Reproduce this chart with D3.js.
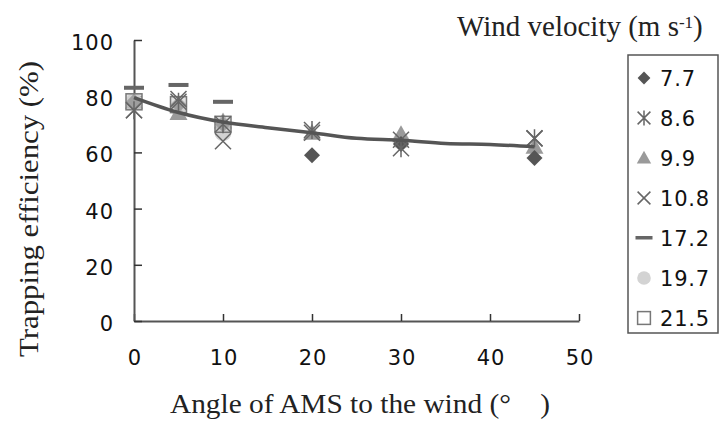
<!DOCTYPE html>
<html>
<head>
<meta charset="utf-8">
<script src="https://cdn.jsdelivr.net/npm/d3@7"></script>
<style>
  html, body { margin: 0; padding: 0; background: #fff; }
  svg { display: block; }
</style>
</head>
<body>
<svg id="chart" width="719" height="421"></svg>
<script>
// Angle of the AMS to the wind (degrees)
const angles = [0, 5, 10, 20, 30, 45];

// Trapping efficiency (%) for each wind velocity (m s-1)
const v7_7  = [78, 77, 70, 59, 63, 58];
const v8_6  = [75, 78, 70, 68, 61.5, 65];
const v9_9  = [78, 74, 71, 67, 66.5, 62];
const v10_8 = [75, 79, 64, 67, 64.5, 65];
const v17_2 = [83, 84, 78, null, null, null];
const v19_7 = [78, 76, 67, null, 64, null];
const v21_5 = [78, 77, 70, null, null, null];

// Fitted trend through all velocities
const trendAngles = [0, 5, 10, 15, 20, 25, 30, 35, 40, 45];
const trendValues = [79.5, 74.2, 70.8, 68.8, 67, 65, 64.3, 63.2, 62.8, 62];

const xTicks = [0, 10, 20, 30, 40, 50];
const yTicks = [0, 20, 40, 60, 80, 100];

const seriesLabels = ["7.7", "8.6", "9.9", "10.8", "17.2", "19.7", "21.5"];
const seriesValues = [v7_7, v8_6, v9_9, v10_8, v17_2, v19_7, v21_5];
const seriesShapes = ["diamond", "asterisk", "triangle", "cross", "dash", "circle", "square"];

const svg = d3.select("#chart");
const sans = "'DejaVu Sans', 'Liberation Sans', Arial, sans-serif";
const serif = "'Liberation Serif', 'DejaVu Serif', 'Times New Roman', serif";
const axisColor = "#555";

const x = d3.scaleLinear().domain([0, 50]).range([134, 579]);
const y = d3.scaleLinear().domain([0, 100]).range([321, 40]);

// Axes with inward ticks
const gx = svg.append("g").attr("transform", `translate(0,${y(0)})`)
  .call(d3.axisBottom(x).tickValues(xTicks).tickSizeInner(-7).tickSizeOuter(0).tickPadding(36));
const gy = svg.append("g").attr("transform", `translate(${x(0)},0)`)
  .call(d3.axisLeft(y).tickValues(yTicks).tickSizeInner(-8).tickSizeOuter(0).tickPadding(20));

[gx, gy].forEach(g => {
  g.select(".domain").attr("stroke", axisColor).attr("stroke-width", 2);
  g.selectAll(".tick line").attr("stroke", "#333").attr("stroke-width", 1.5);
  g.selectAll(".tick text").attr("fill", "#111").style("font-family", sans)
    .style("font-size", "21px").style("letter-spacing", "1px");
});
gy.selectAll(".tick text").attr("dy", "0.45em");
gx.selectAll(".tick text").attr("dy", "0.36em").attr("dx", "0.5px");

// Symbol drawing
function drawSymbol(g, shape, cx, cy, legend) {
  const s = legend ? 0.8 : 1;
  switch (shape) {
    case "diamond": {
      const r = 8 * s;
      g.append("path").attr("d", `M${cx},${cy-r}L${cx+r},${cy}L${cx},${cy+r}L${cx-r},${cy}Z`)
        .attr("fill", "#555");
      break;
    }
    case "asterisk": {
      const r = 8 * s;
      const p = `M${cx-r},${cy-r}L${cx+r},${cy+r}M${cx-r},${cy+r}L${cx+r},${cy-r}M${cx},${cy-r-1}L${cx},${cy+r+1}`;
      g.append("path").attr("d", p).attr("stroke", "#666").attr("stroke-width", 1.5).attr("fill", "none");
      break;
    }
    case "triangle": {
      const r = 9 * s;
      g.append("path").attr("d", `M${cx},${cy-r}L${cx+r},${cy+r*0.78}L${cx-r},${cy+r*0.78}Z`).attr("fill", "#9a9a9a");
      break;
    }
    case "cross": {
      const r = 8 * s;
      g.append("path").attr("d", `M${cx-r},${cy-r}L${cx+r},${cy+r}M${cx-r},${cy+r}L${cx+r},${cy-r}`)
        .attr("stroke", "#666").attr("stroke-width", 1.5).attr("fill", "none");
      break;
    }
    case "dash": {
      const w = legend ? 17 : 20;
      g.append("rect").attr("x", cx - w / 2).attr("y", cy - 2).attr("width", w).attr("height", legend ? 3.5 : 4).attr("fill", "#666");
      break;
    }
    case "circle":
      g.append("circle").attr("cx", cx).attr("cy", cy).attr("r", 8.5 * s).attr("fill", "#d3d3d3");
      break;
    case "square": {
      const r = 8 * s;
      g.append("rect").attr("x", cx - r).attr("y", cy - r).attr("width", 2 * r).attr("height", 2 * r)
        .attr("fill", legend ? "#fff" : "#cfcfcf").attr("fill-opacity", legend ? 1 : 0.6)
        .attr("stroke", "#777").attr("stroke-width", 1.5);
      break;
    }
  }
}

// Draw order: circles and fills first, outlines on top
const drawOrder = [5, 2, 0, 6, 1, 3, 4];
const marks = svg.append("g");
drawOrder.forEach(si => {
  seriesValues[si].forEach((v, i) => {
    if (v === null) return;
    drawSymbol(marks, seriesShapes[si], x(angles[i]), y(v), false);
  });
});

// Trend line
svg.append("path")
  .datum(trendAngles.map((a, i) => [a, trendValues[i]]))
  .attr("d", d3.line().x(d => x(d[0])).y(d => y(d[1])).curve(d3.curveMonotoneX))
  .attr("fill", "none").attr("stroke", "#555").attr("stroke-width", 3.5);

// Axis titles
svg.append("text").attr("x", 170).attr("y", 413)
  .attr("textLength", 380).attr("lengthAdjust", "spacingAndGlyphs")
  .style("font-family", serif).style("font-size", "27px").attr("fill", "#222")
  .text("Angle of AMS to the wind (°\u2003)");
svg.append("text").attr("transform", `translate(38,209) rotate(-90)`).attr("text-anchor", "middle")
  .attr("textLength", 296).attr("lengthAdjust", "spacingAndGlyphs")
  .style("font-family", serif).style("font-size", "28px").attr("fill", "#222")
  .text("Trapping efficiency (%)");

// Legend
const lt = svg.append("text").attr("x", 457).attr("y", 36)
  .style("font-family", serif).style("font-size", "29px").attr("fill", "#222");
lt.append("tspan").text("Wind velocity (m s");
lt.append("tspan").attr("dy", -8).style("font-size", "17px").text("-1");
lt.append("tspan").attr("dy", 8).text(")");

svg.append("rect").attr("x", 628).attr("y", 55).attr("width", 90).attr("height", 278)
  .attr("fill", "#fff").attr("stroke", "#555").attr("stroke-width", 1.5);
const lg = svg.append("g");
seriesLabels.forEach((lab, i) => {
  const cy = 78 + i * 40;
  drawSymbol(lg, seriesShapes[i], 644, cy, true);
  lg.append("text").attr("x", 660).attr("y", cy).attr("dy", "0.36em")
    .style("font-family", sans).style("font-size", "21px").style("letter-spacing", "0.8px")
    .attr("fill", "#111").text(lab);
});
</script>
</body>
</html>
